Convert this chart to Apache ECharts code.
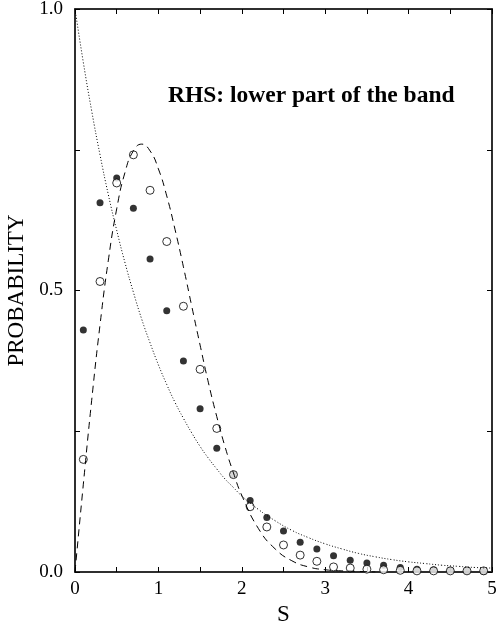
<!DOCTYPE html>
<html>
<head>
<meta charset="utf-8">
<script src="https://cdn.jsdelivr.net/npm/echarts@6/dist/echarts.min.js"></script>
<style>
html,body{margin:0;padding:0;background:#fff;}
#chart{width:496px;height:621px;}
</style>
</head>
<body>
<div id="chart"></div>
<script>
// Marker positions (spacing S)
const markerS = [0.1,0.3,0.5,0.7,0.9,1.1,1.3,1.5,1.7,1.9,2.1,2.3,2.5,2.7,2.9,3.1,3.3,3.5,3.7,3.9,4.1,4.3,4.5,4.7,4.9];
// Filled circles
const filledP = [0.430,0.656,0.700,0.646,0.556,0.464,0.375,0.290,0.220,0.173,0.127,0.097,0.073,0.053,0.041,0.029,0.021,0.016,0.012,0.008,0.005,0.004,0.003,0.002,0.001];
// Open circles
const openP = [0.200,0.516,0.691,0.741,0.678,0.587,0.472,0.360,0.255,0.173,0.116,0.080,0.048,0.030,0.019,0.009,0.007,0.005,0.004,0.003,0.002,0.002,0.002,0.002,0.002];
// Dotted curve
const dottedS = [0,0.1,0.2,0.3,0.4,0.5,0.6,0.7,0.8,0.9,1.0,1.1,1.2,1.3,1.4,1.5,1.6,1.7,1.8,1.9,2.0,2.2,2.4,2.6,2.8,3.0,3.2,3.4,3.6,3.8,4.0,4.2,4.4,4.6,4.8,5.0];
const dottedP = [1.000,0.905,0.819,0.741,0.670,0.607,0.549,0.497,0.449,0.407,0.368,0.333,0.301,0.273,0.247,0.223,0.202,0.183,0.165,0.150,0.135,0.111,0.091,0.074,0.061,0.050,0.041,0.033,0.027,0.022,0.018,0.015,0.012,0.010,0.008,0.007];
// Dashed curve
const dashedS = [0,0.1,0.2,0.3,0.4,0.5,0.6,0.7,0.8,0.9,1.0,1.1,1.2,1.3,1.4,1.5,1.6,1.7,1.8,1.9,2.0,2.2,2.4,2.6,2.8,3.0,3.2,3.4,3.6];
const dashedP = [0,0.156,0.305,0.439,0.554,0.645,0.710,0.748,0.760,0.748,0.716,0.668,0.608,0.542,0.472,0.403,0.336,0.276,0.222,0.176,0.136,0.077,0.041,0.020,0.009,0.004,0.002,0.001,0.000];
// Tick labels
const xTickLabels = ['0','1','2','3','4','5'];
const yTickLabels = ['0.0','0.5','1.0'];

const zip = (a,b) => a.map((v,i)=>[v,b[i]]);
const FONT = '"Liberation Serif", "DejaVu Serif", serif';

const chart = echarts.init(document.getElementById('chart'), null, {renderer:'canvas'});
const axisCommon = {
  axisLine:{show:true, onZero:false, lineStyle:{color:'#222', width:1.5}},
  axisTick:{show:true, inside:true, length:5, lineStyle:{color:'#000', width:1}},
  splitLine:{show:false}
};
chart.setOption({
  animation:false,
  backgroundColor:'#fff',
  grid:{left:75, right:4, top:9, bottom:49, containLabel:false, outerBoundsMode:'none',
    show:true, borderColor:'#222', borderWidth:1.5, backgroundColor:'transparent'},
  title:{
    text:'RHS: lower part of the band',
    left:168, top:84, padding:0,
    textStyle:{fontFamily:FONT, fontWeight:'bold', fontSize:23.5, color:'#000'}
  },
  xAxis:[
    Object.assign({type:'value', position:'bottom', min:0, max:5, interval:0.5,
      name:'S', nameLocation:'middle', nameGap:26,
      nameTextStyle:{fontFamily:FONT, fontSize:23, color:'#000'},
      axisLabel:{fontFamily:FONT, fontSize:19, color:'#000', margin:8,
        formatter:v => Number.isInteger(v) ? xTickLabels[v] : ''}
    }, axisCommon),
    Object.assign({type:'value', position:'top', min:0, max:5, interval:0.5,
      axisLabel:{show:false}}, axisCommon)
  ],
  yAxis:[
    Object.assign({type:'value', position:'left', min:0, max:1, interval:0.25,
      name:'PROBABILITY', nameLocation:'middle', nameGap:46, nameRotate:90,
      nameTextStyle:{fontFamily:FONT, fontSize:23, color:'#000'},
      axisLabel:{fontFamily:FONT, fontSize:19, color:'#000', margin:12,
        formatter:v => { const i = Math.round(v*2); return Math.abs(v*2 - i) < 1e-9 ? yTickLabels[i] : ''; }}
    }, axisCommon),
    Object.assign({type:'value', position:'right', min:0, max:1, interval:0.25,
      axisLabel:{show:false}}, axisCommon)
  ],
  series:[
    {type:'line', data:zip(dottedS,dottedP), smooth:true, symbol:'none',
      lineStyle:{color:'#000', width:1, type:[1,2]}},
    {type:'line', data:zip(dashedS,dashedP), smooth:true, symbol:'none',
      lineStyle:{color:'#000', width:1, type:[7,5]}},
    {type:'scatter', data:zip(markerS,filledP), symbol:'circle', symbolSize:7,
      itemStyle:{color:'#000'}},
    {type:'scatter', data:zip(markerS,openP), symbol:'circle', symbolSize:8,
      itemStyle:{color:'#fff', borderColor:'#000', borderWidth:1}}
  ]
});
</script>
</body>
</html>
